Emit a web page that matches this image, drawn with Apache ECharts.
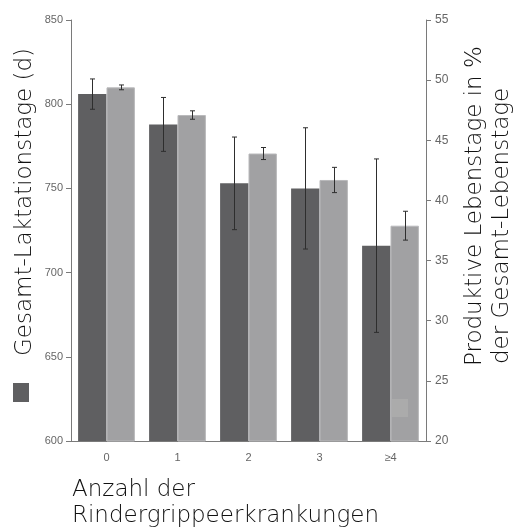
<!DOCTYPE html>
<html>
<head>
<meta charset="utf-8">
<script src="https://cdn.jsdelivr.net/npm/echarts@6/dist/echarts.min.js"></script>
<style>
  html, body { margin: 0; padding: 0; background: #fff; }
  #chart { width: 516px; height: 528px; }
</style>
</head>
<body>
<div id="chart"></div>
<script>
// Number of bovine respiratory disease episodes
const categories = ['0', '1', '2', '3', '≥4'];

// Total lactation days (left axis), mean and error half-width
const lactationDays = [806, 788, 753, 750, 716];
const lactationErr = [9, 16, 27.5, 36, 51.5];

// Productive days as % of total life days (right axis)
const productiveShare = [49.4, 47.1, 43.9, 41.7, 37.9];
const productiveErr = [0.2, 0.35, 0.5, 1.05, 1.2];

const leftTicks = { min: 600, max: 850, interval: 50 };
const rightTicks = { min: 20, max: 55, interval: 5 };

const DARK = '#5f5f61';
const LIGHT = '#a1a1a3';
const AXIS = '#7a7a7a';
const GAP = 0.2; // category gap fraction

function errorSeries(values, errs, axisIndex, side) {
  return {
    type: 'custom',
    yAxisIndex: axisIndex,
    z: 10,
    data: values.map((v, i) => [i, v - errs[i], v + errs[i]]),
    renderItem: function (params, api) {
      const band = api.size([1, 0])[0];
      const barW = band * (1 - GAP) / 2;
      const lo = api.coord([api.value(0), api.value(1)]);
      const hi = api.coord([api.value(0), api.value(2)]);
      const x = Math.round(lo[0] + side * barW / 2) + 0.5;
      const cap = 2.5;
      const style = { stroke: '#2e2e2e', lineWidth: 1 };
      return {
        type: 'group',
        children: [
          { type: 'line', shape: { x1: x, y1: lo[1], x2: x, y2: hi[1] }, style: style },
          { type: 'line', shape: { x1: x - cap, y1: lo[1], x2: x + cap, y2: lo[1] }, style: style },
          { type: 'line', shape: { x1: x - cap, y1: hi[1], x2: x + cap, y2: hi[1] }, style: style }
        ]
      };
    }
  };
}

const chart = echarts.init(document.getElementById('chart'), null, { renderer: 'canvas' });

const titleFont = '"DejaVu Sans", sans-serif';
const tickFont = '"Liberation Sans", Arial, sans-serif';

chart.setOption({
  backgroundColor: '#fff',
  animation: false,
  grid: { left: 71, right: 90, top: 20, bottom: 87 },
  legend: [
    {
      data: [{ name: 'Gesamt-Laktationstage', itemStyle: { color: DARK, borderWidth: 0 } }],
      left: 13, top: 383, icon: 'rect', itemWidth: 16, itemHeight: 19,
      formatter: function () { return ''; }, selectedMode: false, padding: 0
    },
    {
      data: [{ name: 'Produktive Lebenstage', itemStyle: { color: '#ababab', borderWidth: 0 } }],
      left: 392, top: 399, icon: 'rect', itemWidth: 16, itemHeight: 18,
      formatter: function () { return ''; }, selectedMode: false, padding: 0, z: 20
    }
  ],
  xAxis: {
    type: 'category',
    data: categories,
    axisLine: { lineStyle: { color: AXIS, width: 1 } },
    axisTick: { length: 5, lineStyle: { color: AXIS } },
    axisLabel: { color: '#666', fontSize: 11, fontFamily: tickFont, margin: 11 }
  },
  yAxis: [
    {
      type: 'value',
      min: leftTicks.min, max: leftTicks.max, interval: leftTicks.interval,
      position: 'left',
      axisLine: { show: true, lineStyle: { color: AXIS } },
      axisTick: { show: true, length: 5, lineStyle: { color: AXIS } },
      axisLabel: { color: '#666', fontSize: 11, fontFamily: tickFont, margin: 8 },
      splitLine: { show: false }
    },
    {
      type: 'value',
      min: rightTicks.min, max: rightTicks.max, interval: rightTicks.interval,
      position: 'right',
      axisLine: { show: true, lineStyle: { color: AXIS } },
      axisTick: { show: true, length: 5, lineStyle: { color: AXIS } },
      axisLabel: { color: '#666', fontSize: 12, fontFamily: tickFont, margin: 9 },
      splitLine: { show: false }
    }
  ],
  series: [
    {
      name: 'Gesamt-Laktationstage',
      type: 'bar',
      yAxisIndex: 0,
      data: lactationDays,
      barGap: '0%',
      barCategoryGap: '20%',
      itemStyle: { color: DARK }
    },
    {
      name: 'Produktive Lebenstage',
      type: 'bar',
      yAxisIndex: 1,
      data: productiveShare,
      barGap: '0%',
      barCategoryGap: '20%',
      itemStyle: { color: LIGHT, borderColor: '#b9b9bb', borderWidth: 1 }
    },
    errorSeries(lactationDays, lactationErr, 0, -1),
    errorSeries(productiveShare, productiveErr, 1, 1)
  ],
  graphic: [
    {
      type: 'text', x: 25, y: 356, rotation: Math.PI / 2,
      style: {
        text: 'Gesamt-Laktationstage (d)', font: '200 23px ' + titleFont,
        fill: '#111', align: 'left', verticalAlign: 'middle'
      }
    },
    {
      type: 'text', x: 475, y: 366, rotation: Math.PI / 2,
      style: {
        text: 'Produktive Lebenstage in %', font: '200 23px ' + titleFont,
        fill: '#111', align: 'left', verticalAlign: 'middle'
      }
    },
    {
      type: 'text', x: 502, y: 364, rotation: Math.PI / 2,
      style: {
        text: 'der Gesamt-Lebenstage', font: '200 23px ' + titleFont,
        fill: '#111', align: 'left', verticalAlign: 'middle'
      }
    },
    {
      type: 'text', x: 72, y: 490,
      style: {
        text: 'Anzahl der', font: '200 23px ' + titleFont,
        fill: '#111', align: 'left', verticalAlign: 'middle'
      }
    },
    {
      type: 'text', x: 72, y: 516,
      style: {
        text: 'Rindergrippeerkrankungen', font: '200 23px ' + titleFont,
        fill: '#111', align: 'left', verticalAlign: 'middle'
      }
    }
  ]
});
</script>
</body>
</html>
